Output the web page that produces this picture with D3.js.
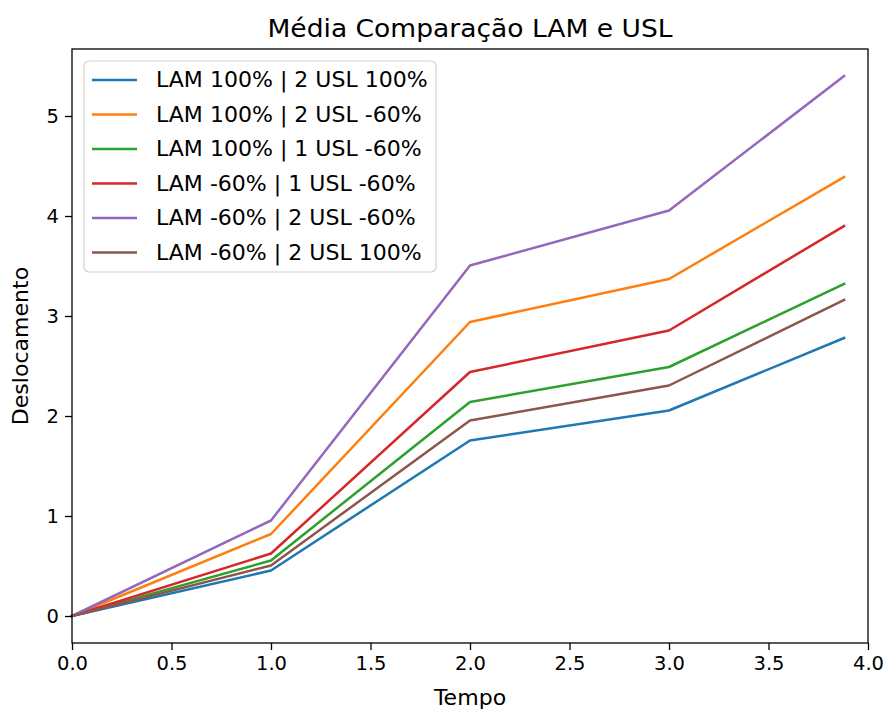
<!DOCTYPE html>
<html>
<head>
<meta charset="utf-8">
<script src="https://cdn.jsdelivr.net/npm/d3@7"></script>
<style>
  html, body { margin: 0; padding: 0; background: #fff; }
  svg { display: block; font-family: "DejaVu Sans", sans-serif; }
</style>
</head>
<body>
<svg id="chart" width="889" height="711"></svg>
<script>
// Time samples
const tempo = [0, 1, 2, 3, 3.88];

// Series names (legend order)
const seriesNames = [
  "LAM 100% | 2 USL 100%",
  "LAM 100% | 2 USL -60%",
  "LAM 100% | 1 USL -60%",
  "LAM -60% | 1 USL -60%",
  "LAM -60% | 2 USL -60%",
  "LAM -60% | 2 USL 100%"
];

// Mean displacement per series
const lam100_2usl100 = [0, 0.455, 1.755, 2.055, 2.78];
const lam100_2usl60  = [0, 0.82, 2.94, 3.37, 4.39];
const lam100_1usl60  = [0, 0.555, 2.14, 2.49, 3.32];
const lam60_1usl60   = [0, 0.625, 2.44, 2.855, 3.90];
const lam60_2usl60   = [0, 0.955, 3.505, 4.055, 5.40];
const lam60_2usl100  = [0, 0.505, 1.955, 2.305, 3.16];

const seriesValues = [lam100_2usl100, lam100_2usl60, lam100_1usl60, lam60_1usl60, lam60_2usl60, lam60_2usl100];
const colors = ["#1f77b4", "#ff7f0e", "#2ca02c", "#d62728", "#9467bd", "#8c564b"];

const xTicks = [0, 0.5, 1, 1.5, 2, 2.5, 3, 3.5, 4];
const yTicks = [0, 1, 2, 3, 4, 5];

const svg = d3.select("#chart");
const plotLeft = 72, plotRight = 868, plotTop = 49, plotBottom = 643;
const stretch = 1.07; // glyphs are a little wider than tall

const x = d3.scaleLinear().domain([0, 4]).range([plotLeft, plotRight]);
const yMax = d3.max(seriesValues, s => d3.max(s));
const pad = yMax * 0.05;
const y = d3.scaleLinear().domain([-pad, yMax + pad]).range([plotBottom, plotTop]);

// Lines
const line = d3.line().x((d, i) => x(tempo[i])).y(d => y(d));
const plot = svg.append("g");
seriesValues.forEach((vals, k) => {
  plot.append("path")
    .datum(vals)
    .attr("d", line)
    .attr("fill", "none")
    .attr("stroke", colors[k])
    .attr("stroke-width", 2.5)
    .attr("stroke-linejoin", "round")
    .attr("stroke-linecap", "square");
});

// Axes
const xAxis = d3.axisBottom(x).tickValues(xTicks).tickFormat(d3.format(".1f")).tickSize(7).tickPadding(6);
const yAxis = d3.axisLeft(y).tickValues(yTicks).tickFormat(d3.format("d")).tickSize(7).tickPadding(6);

const gx = svg.append("g").attr("transform", `translate(0,${plotBottom})`).call(xAxis);
const gy = svg.append("g").attr("transform", `translate(${plotLeft},0)`).call(yAxis);
[gx, gy].forEach(g => {
  g.select(".domain").remove();
  g.selectAll(".tick line").attr("stroke", "#000").attr("stroke-width", 1.3);
  g.selectAll(".tick text").attr("font-size", 19.5).attr("fill", "#000").attr("font-family", "DejaVu Sans");
});

// Frame
svg.append("rect")
  .attr("x", plotLeft).attr("y", plotTop)
  .attr("width", plotRight - plotLeft).attr("height", plotBottom - plotTop)
  .attr("fill", "none").attr("stroke", "#000").attr("stroke-width", 1.3);

// Text helper with a slight horizontal stretch
function label(tx, ty, txt, size, rot) {
  const g = svg.append("g").attr("transform", `translate(${tx},${ty})${rot ? " rotate(" + rot + ")" : ""} scale(${stretch},1)`);
  return g.append("text").attr("x", 0).attr("y", 0).attr("font-size", size).attr("fill", "#000").text(txt);
}

// Title and axis labels
label((plotLeft + plotRight) / 2, 37, "Média Comparação LAM e USL", 24.8).attr("text-anchor", "middle");
label((plotLeft + plotRight) / 2, 705, "Tempo", 20.6).attr("text-anchor", "middle");
label(28, (plotTop + plotBottom) / 2, "Deslocamento", 20.6, -90).attr("text-anchor", "middle");

// Legend
const lg = svg.append("g");
lg.append("rect")
  .attr("x", 84).attr("y", 61).attr("width", 352).attr("height", 211)
  .attr("rx", 5).attr("ry", 5)
  .attr("fill", "#fff").attr("fill-opacity", 0.8)
  .attr("stroke", "#d0d0d0").attr("stroke-width", 1.2);
seriesNames.forEach((name, k) => {
  const cy = 80 + k * 34.5;
  lg.append("line").attr("x1", 92).attr("x2", 137).attr("y1", cy).attr("y2", cy)
    .attr("stroke", colors[k]).attr("stroke-width", 2.5);
  lg.append("g").attr("transform", `translate(156,${cy}) scale(${stretch},1)`)
    .append("text").attr("dy", "0.36em")
    .attr("font-size", 20.6).attr("fill", "#000").text(name);
});
</script>
</body>
</html>
